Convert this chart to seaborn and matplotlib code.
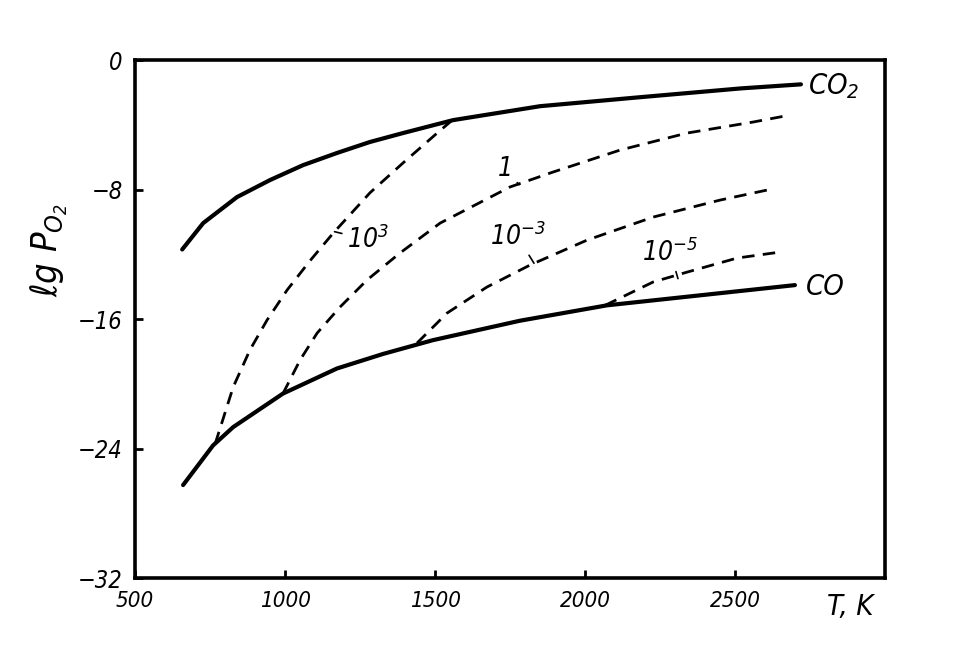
import matplotlib
matplotlib.use("Agg")
import matplotlib.pyplot as plt
import seaborn as sns

# Curvas (T em K, lg P_O2)
t_co2 = [657, 727, 840, 950, 1060, 1173, 1283, 1393, 1560, 1850, 2180, 2520, 2720]
lg_co2 = [-11.7, -10.07, -8.46, -7.41, -6.49, -5.74, -5.06, -4.51, -3.71, -2.85, -2.3, -1.75, -1.5]

t_co = [660, 760, 827, 993, 1173, 1327, 1493, 1783, 2073, 2700]
lg_co = [-26.25, -23.8, -22.67, -20.6, -19.05, -18.15, -17.3, -16.1, -15.15, -13.9]

t_p1e3 = [767, 827, 883, 940, 1007, 1083, 1160, 1283, 1393, 1507, 1555]
lg_p1e3 = [-23.7, -20.2, -17.9, -16.06, -14.2, -12.4, -10.7, -8.2, -6.36, -4.51, -3.75]

t_p1 = [993, 1050, 1107, 1183, 1273, 1383, 1517, 1750, 1893, 2117, 2340, 2560, 2683]
lg_p1 = [-20.6, -18.53, -16.86, -15.26, -13.59, -11.92, -10.07, -7.84, -6.92, -5.56, -4.51, -3.83, -3.4]

t_p1em3 = [1440, 1540, 1673, 1817, 2007, 2227, 2450, 2607]
lg_p1em3 = [-17.48, -15.63, -14.02, -12.66, -11.12, -9.7, -8.65, -8.03]

t_p1em5 = [2067, 2227, 2340, 2507, 2650]
lg_p1em5 = [-15.15, -13.71, -13.1, -12.23, -11.86]

x_ticks = [500, 1000, 1500, 2000, 2500]
y_ticks = [-32, -24, -16, -8, 0]

sns.set_style("white")
plt.rcParams['font.family'] = ['DejaVu Sans']
plt.rcParams['font.style'] = 'italic'
plt.rcParams['font.stretch'] = 'condensed'
plt.rcParams['text.color'] = 'black'
plt.rcParams['xtick.color'] = 'black'
plt.rcParams['ytick.color'] = 'black'
plt.rcParams['axes.labelcolor'] = 'black'

fig = plt.figure(figsize=(9.65, 6.6), dpi=100)
ax = fig.add_axes([0.140, 0.124, 0.777, 0.785])

sns.lineplot(x=t_co2, y=lg_co2, ax=ax, color='black', lw=3)
sns.lineplot(x=t_co, y=lg_co, ax=ax, color='black', lw=3)
for tt, vv in [(t_p1e3, lg_p1e3), (t_p1, lg_p1), (t_p1em3, lg_p1em3), (t_p1em5, lg_p1em5)]:
    sns.lineplot(x=tt, y=vv, ax=ax, color='black', lw=2, linestyle=(0, (4.5, 3)))

ax.set_xlim(500, 3000)
ax.set_ylim(-32, 0)
ax.set_xticks(x_ticks)
ax.set_yticks(y_ticks)
ax.set_xticklabels([str(v) for v in x_ticks], fontsize=16)
ax.set_yticklabels(['\u221232', '\u221224', '\u221216', '\u22128', '0'], fontsize=17)
ax.tick_params(direction='in', length=6, width=2, pad=9, bottom=True, left=True)
for s in ax.spines.values():
    s.set_linewidth(2.6)
    s.set_color('black')

ax.set_xlabel('')
ax.set_ylabel(r'$\ell g\ P_{O_2}$', fontsize=26)
ax.yaxis.set_label_coords(-0.087, 0.633)
ax.text(2960, -33.8, 'T, K', fontsize=21, ha='right', va='center', clip_on=False)

# etiquetas das curvas
ax.text(2745, -1.6, r'$CO_2$', fontsize=21, va='center')
ax.text(2735, -14.0, 'CO', fontsize=21, va='center')

leader = dict(arrowstyle='-', color='black', lw=1.2, shrinkA=1, shrinkB=0)
ax.annotate(r'$10^3$', xy=(1165, -10.6), xytext=(1275, -11.1), fontsize=19,
            ha='center', va='center', arrowprops=leader)
ax.annotate('1', xy=(1780, -7.7), xytext=(1735, -6.7), fontsize=19,
            ha='center', va='center', arrowprops=leader)
ax.annotate(r'$10^{-3}$', xy=(1830, -12.55), xytext=(1775, -10.9), fontsize=19,
            ha='center', va='center', arrowprops=leader)
ax.annotate(r'$10^{-5}$', xy=(2310, -13.5), xytext=(2285, -11.9), fontsize=19,
            ha='center', va='center', arrowprops=leader)

plt.savefig('out.png', dpi=100)
